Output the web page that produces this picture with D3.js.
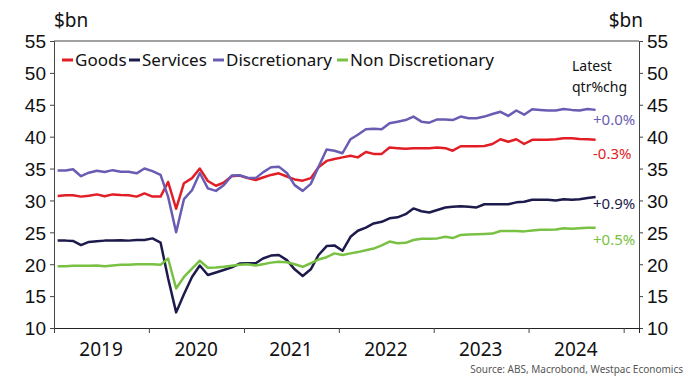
<!DOCTYPE html>
<html>
<head>
<meta charset="utf-8">
<script src="https://cdn.jsdelivr.net/npm/d3@7"></script>
<style>
  body { margin: 0; background: #fff; }
  svg { font-family: "Noto Sans", "Open Sans", sans-serif; }
</style>
</head>
<body>
<div id="chart"></div>
<script>
// Monthly series, Jan 2019 onward ($bn)
const goods = [30.7, 30.8, 30.8, 30.6, 30.75, 30.95, 30.65, 30.95, 30.85, 30.8, 30.6, 31.1,
  30.6, 30.6, 32.9, 28.7, 32.7, 33.5, 35.0, 33.05, 32.3, 32.8, 33.8, 33.9,
  33.5, 33.2, 33.6, 34.0, 34.25, 33.75, 33.3, 33.1, 33.5, 35.2, 36.2, 36.5,
  36.75, 37.0, 36.75, 37.6, 37.3, 37.3, 38.3, 38.2, 38.1, 38.2, 38.2, 38.2,
  38.3, 38.2, 37.8, 38.5, 38.5, 38.5, 38.55, 38.85, 39.6, 39.2, 39.6, 38.85,
  39.5, 39.5, 39.5, 39.6, 39.75, 39.75, 39.65, 39.6, 39.5];
const services = [23.7, 23.7, 23.65, 23.0, 23.5, 23.6, 23.7, 23.7, 23.75, 23.7, 23.8, 23.8,
  24.05, 23.4, 17.8, 12.45, 15.3, 18.0, 19.8, 18.3, 18.7, 19.1, 19.5, 20.1,
  20.15, 20.15, 20.9, 21.35, 21.45, 20.65, 19.2, 18.15, 19.2, 21.45, 22.85, 22.95,
  22.1, 24.3, 25.25, 25.75, 26.4, 26.65, 27.2, 27.35, 27.85, 28.75, 28.3, 28.1,
  28.5, 28.9, 29.0, 29.1, 29.0, 28.9, 29.4, 29.4, 29.4, 29.4, 29.7, 29.8,
  30.1, 30.1, 30.1, 30.0, 30.2, 30.1, 30.2, 30.4, 30.55];
const discretionary = [34.7, 34.7, 34.9, 33.8, 34.35, 34.65, 34.45, 34.75, 34.5, 34.5, 34.25, 35.0,
  34.6, 34.0, 30.6, 25.0, 30.2, 31.6, 34.3, 31.9, 31.5, 32.4, 33.9, 33.95,
  33.55, 33.5, 34.4, 35.2, 35.3, 34.3, 32.4, 31.5, 32.6, 35.3, 38.0, 37.8,
  37.4, 39.6, 40.3, 41.15, 41.25, 41.15, 42.1, 42.35, 42.6, 43.15, 42.35, 42.2,
  42.7, 42.7, 42.6, 43.15, 42.9, 42.9, 43.15, 43.55, 43.9, 43.25, 44.1, 43.45,
  44.3, 44.2, 44.1, 44.1, 44.35, 44.2, 44.1, 44.35, 44.2];
const nonDiscretionary = [19.7, 19.7, 19.75, 19.75, 19.75, 19.8, 19.7, 19.8, 19.9, 19.9, 20.0, 20.0,
  20.0, 19.9, 20.9, 16.2, 18.0, 19.3, 20.55, 19.45, 19.5, 19.6, 19.75, 19.9,
  20.0, 19.8, 20.0, 20.25, 20.4, 20.3, 20.0, 19.6, 20.15, 20.75, 21.1, 21.7,
  21.45, 21.7, 21.9, 22.2, 22.45, 22.95, 23.55, 23.3, 23.35, 23.8, 24.0, 24.0,
  24.05, 24.3, 24.1, 24.6, 24.65, 24.7, 24.75, 24.8, 25.2, 25.2, 25.2, 25.15,
  25.3, 25.4, 25.4, 25.45, 25.65, 25.55, 25.65, 25.7, 25.7];

const seriesNames = ["Goods", "Services", "Discretionary", "Non Discretionary"];
const seriesColors = ["#e31d25", "#1d1a4c", "#6a5cb3", "#78c142"];
const latestChange = ["-0.3%", "+0.9%", "+0.0%", "+0.5%"];
const yearLabels = [2019, 2020, 2021, 2022, 2023, 2024];
const yTicks = [10, 15, 20, 25, 30, 35, 40, 45, 50, 55];

const allSeries = [goods, services, discretionary, nonDiscretionary];
const months = goods.map((_, i) => new Date(2019, i, 15));

const W = 688, H = 376;
const plotLeft = 54, plotRight = 639, plotTop = 41, plotBottom = 328;

const svg = d3.select("#chart").append("svg")
  .attr("width", W)
  .attr("height", H);

const x = d3.scaleTime()
  .domain([new Date(2019, 0, 1), new Date(2025, 2, 1)])
  .range([plotLeft, plotRight]);

const y = d3.scaleLinear()
  .domain([10, 55])
  .range([plotBottom, plotTop]);

// frame
svg.append("line")
  .attr("x1", plotLeft).attr("x2", plotRight)
  .attr("y1", plotTop).attr("y2", plotTop)
  .attr("stroke", "#444").attr("stroke-width", 1);

// left axis
const yLeft = svg.append("g")
  .attr("transform", `translate(${plotLeft},0)`)
  .call(d3.axisLeft(y).tickValues(yTicks).tickSize(4).tickPadding(4));

// right axis
const yRight = svg.append("g")
  .attr("transform", `translate(${plotRight},0)`)
  .call(d3.axisRight(y).tickValues(yTicks).tickSize(4).tickPadding(4));

[yLeft, yRight].forEach((ax) => {
  ax.select(".domain").attr("stroke", "#444");
  ax.selectAll(".tick line").attr("stroke", "#444");
  ax.selectAll(".tick text")
    .attr("fill", "#111")
    .style("font-size", "19px")
    .attr("dy", "0.36em");
});

// bottom axis: year boundary ticks, labels centred mid-year
const xAxis = svg.append("g")
  .attr("transform", `translate(0,${plotBottom})`)
  .call(d3.axisBottom(x)
    .tickValues(d3.range(2019, 2026).map((yr) => new Date(yr, 0, 1)))
    .tickSize(5)
    .tickFormat(""));
xAxis.select(".domain").attr("stroke", "#222");
xAxis.selectAll(".tick line").attr("stroke", "#444");

svg.append("g")
  .selectAll("text")
  .data(yearLabels)
  .join("text")
  .attr("x", (d) => x(new Date(d, 6, 1)))
  .attr("y", 356)
  .attr("text-anchor", "middle")
  .attr("fill", "#111")
  .style("font-size", "19px")
  .text((d) => d);

// unit labels
svg.append("text")
  .attr("x", 54).attr("y", 27)
  .attr("fill", "#111")
  .style("font-size", "19px")
  .text("$bn");
svg.append("text")
  .attr("x", 643).attr("y", 27)
  .attr("text-anchor", "end")
  .attr("fill", "#111")
  .style("font-size", "19px")
  .text("$bn");

// lines
const line = d3.line()
  .x((d, i) => x(months[i]))
  .y((d) => y(d));

svg.append("g")
  .selectAll("path")
  .data(allSeries)
  .join("path")
  .attr("fill", "none")
  .attr("stroke", (d, i) => seriesColors[i])
  .attr("stroke-width", 2.5)
  .attr("stroke-linejoin", "round")
  .attr("d", line);

// latest qtr % change labels
const labelOffset = [19, 12, 15, 17];
svg.append("g")
  .selectAll("text")
  .data(allSeries)
  .join("text")
  .attr("x", 593)
  .attr("y", (d, i) => y(d[d.length - 1]) + labelOffset[i])
  .attr("fill", (d, i) => seriesColors[i])
  .style("font-size", "15px")
  .text((d, i) => latestChange[i]);

svg.append("text")
  .attr("x", 572).attr("y", 71)
  .attr("fill", "#111")
  .style("font-size", "14px")
  .text("Latest");
svg.append("text")
  .attr("x", 572).attr("y", 92)
  .attr("fill", "#111")
  .style("font-size", "14px")
  .text("qtr%chg");

// legend
const legendX = [62, 129, 213, 337];
const legend = svg.append("g")
  .selectAll("g")
  .data(seriesNames)
  .join("g")
  .attr("transform", (d, i) => `translate(${legendX[i]},60)`);
legend.append("line")
  .attr("x1", 0).attr("x2", 11)
  .attr("stroke", (d, i) => seriesColors[i])
  .attr("stroke-width", 3);
legend.append("text")
  .attr("x", 13)
  .attr("dy", "0.35em")
  .attr("fill", "#111")
  .style("font-size", "17px")
  .text((d) => d);

// source
svg.append("text")
  .attr("x", 683).attr("y", 373)
  .attr("text-anchor", "end")
  .attr("fill", "#555")
  .style("font-size", "10px")
  .text("Source: ABS, Macrobond, Westpac Economics");
</script>
</body>
</html>
